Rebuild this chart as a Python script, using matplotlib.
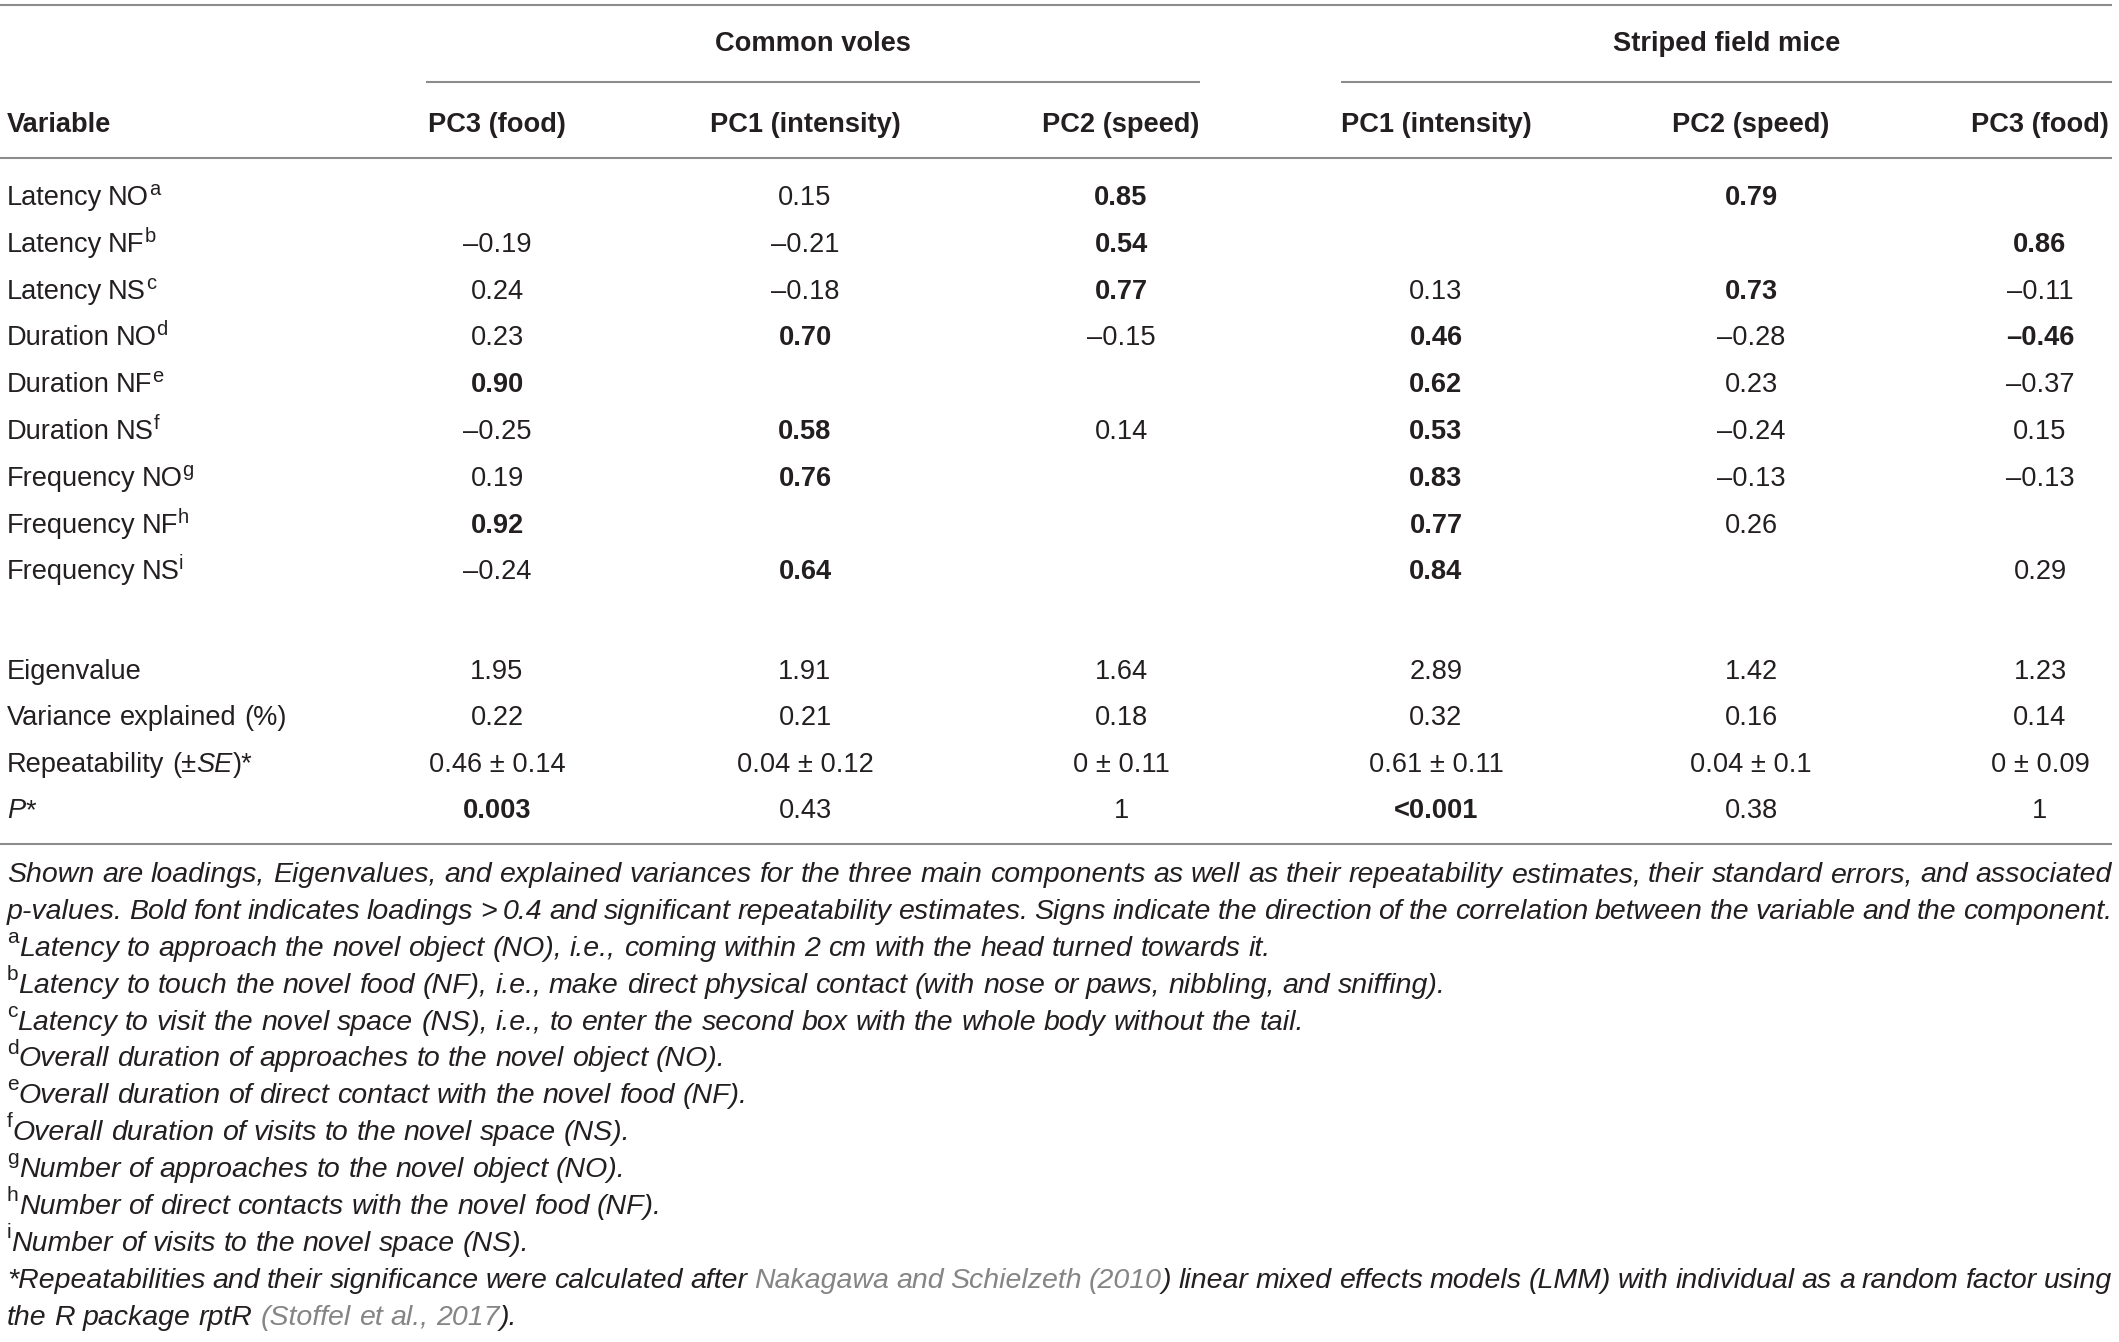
import matplotlib
matplotlib.use("Agg")
import matplotlib.pyplot as plt

W, H = 2119, 1342
INK = "#231f20"
LINK = "#858585"
RULE = "#8c8c8c"
FONT = "Liberation Sans"

# --- table data -------------------------------------------------------------
species = ["Common voles", "Striped field mice"]
components = ["PC3 (food)", "PC1 (intensity)", "PC2 (speed)",
              "PC1 (intensity)", "PC2 (speed)", "PC3 (food)"]
variables = ["Latency NO", "Latency NF", "Latency NS",
             "Duration NO", "Duration NF", "Duration NS",
             "Frequency NO", "Frequency NF", "Frequency NS"]
var_notes = ["a", "b", "c", "d", "e", "f", "g", "h", "i"]

loadings = [
    [None, 0.15, 0.85, None, 0.79, None],
    [-0.19, -0.21, 0.54, None, None, 0.86],
    [0.24, -0.18, 0.77, 0.13, 0.73, -0.11],
    [0.23, 0.70, -0.15, 0.46, -0.28, -0.46],
    [0.90, None, None, 0.62, 0.23, -0.37],
    [-0.25, 0.58, 0.14, 0.53, -0.24, 0.15],
    [0.19, 0.76, None, 0.83, -0.13, -0.13],
    [0.92, None, None, 0.77, 0.26, None],
    [-0.24, 0.64, None, 0.84, None, 0.29],
]
eigenvalues = [1.95, 1.91, 1.64, 2.89, 1.42, 1.23]
variance_explained = [0.22, 0.21, 0.18, 0.32, 0.16, 0.14]
rep_r = [0.46, 0.04, 0, 0.61, 0.04, 0]
rep_se = [0.14, 0.12, 0.11, 0.11, 0.1, 0.09]
p_labels = ["0.003", "0.43", "1", "<0.001", "0.38", "1"]

caption = [
    [("Shown are loadings, Eigenvalues, and explained variances for the three main components as well as their "
      "repeatability estimates, their standard errors, and associated", "i")],
    [("p-values. Bold font indicates loadings > 0.4 and significant repeatability estimates. Signs indicate the "
      "direction of the correlation between the variable and the component.", "i")],
    [("a", "s"), ("Latency to approach the novel object (NO), i.e., coming within 2 cm with the head turned towards it.", "i")],
    [("b", "s"), ("Latency to touch the novel food (NF), i.e., make direct physical contact (with nose or paws, "
                  "nibbling, and sniffing).", "i")],
    [("c", "s"), ("Latency to visit the novel space (NS), i.e., to enter the second box with the whole body "
                  "without the tail.", "i")],
    [("d", "s"), ("Overall duration of approaches to the novel object (NO).", "i")],
    [("e", "s"), ("Overall duration of direct contact with the novel food (NF).", "i")],
    [("f", "s"), ("Overall duration of visits to the novel space (NS).", "i")],
    [("g", "s"), ("Number of approaches to the novel object (NO).", "i")],
    [("h", "s"), ("Number of direct contacts with the novel food (NF).", "i")],
    [("i", "s"), ("Number of visits to the novel space (NS).", "i")],
    [("*Repeatabilities and their significance were calculated after ", "i"),
     ("Nakagawa and Schielzeth (2010", "g"),
     (") linear mixed effects models (LMM) with individual as a random factor using", "i")],
    [("the R package rptR ", "i"), ("(Stoffel et al., 2017", "g"), (").", "i")],
]
justified = [True, True, False, False, False, False, False, False, False, False, False, True, False]

# --- styles -----------------------------------------------------------------
STY = {
    "n": dict(family=FONT, fontsize=19.6, color=INK),
    "b": dict(family=FONT, fontsize=19.6, color=INK, fontweight="bold"),
    "ni": dict(family=FONT, fontsize=19.6, color=INK, style="italic"),
    "rs": dict(family=FONT, fontsize=14.5, color=INK),
    "i": dict(family=FONT, fontsize=20.5, color=INK, style="italic"),
    "g": dict(family=FONT, fontsize=20.5, color=LINK, style="italic"),
    "s": dict(family=FONT, fontsize=15, color=INK),
}
RAISE = {"rs": 10, "s": 13}

fig = plt.figure(figsize=(W / 100, H / 100), dpi=100)
ax = fig.add_axes([0, 0, 1, 1])
ax.set_xlim(0, W)
ax.set_ylim(H, 0)
ax.axis("off")
renderer = fig.canvas.get_renderer()


def text_width(s, key):
    t = ax.text(0, 0, s, **STY[key])
    w = t.get_window_extent(renderer).width
    t.remove()
    return w


def space_width(key):
    return text_width("a a", key) - text_width("aa", key)


def place_line(x, y, segments, width=None):
    # split segments into words, each word is a list of (text, style)
    words, cur = [], []
    for text, key in segments:
        for k, part in enumerate(text.split(" ")):
            if k > 0 and cur:
                words.append(cur)
                cur = []
            if part:
                cur.append((part, key))
    if cur:
        words.append(cur)
    widths = [sum(text_width(t, k) for t, k in w) for w in words]
    if width is None or len(words) < 2:
        gap = space_width(segments[-1][1])
    else:
        gap = (width - sum(widths)) / (len(words) - 1)
    xx = x
    for w, ww in zip(words, widths):
        px = xx
        for t, k in w:
            ax.text(px, y - RAISE.get(k, 0), t, ha="left", va="baseline", **STY[k])
            px += text_width(t, k)
        xx += ww + gap


def fmt(v):
    return f"{v:.2f}".replace("-", "\u2013")


# --- layout -----------------------------------------------------------------
left, right = 7, 2112
col_x = [497, 805, 1121, 1436, 1751, 2040]
group_span = [(426, 1200), (1341, 2112)]
row_y0, row_dy = 205, 46.8
stat_y0, stat_dy = 679, 46.4

for y in (5, 158, 844):
    ax.plot([0, right], [y, y], color=RULE, lw=1.5, solid_capstyle="butt")
for (x0, x1), name in zip(group_span, species):
    ax.plot([x0, x1], [82, 82], color=RULE, lw=1.5, solid_capstyle="butt")
    ax.text((x0 + x1) / 2, 51, name, ha="center", va="baseline", **STY["b"])

ax.text(left, 132, "Variable", ha="left", va="baseline", **STY["b"])
for x, c in zip(col_x, components):
    ax.text(x, 132, c, ha="center", va="baseline", **STY["b"])

for i, (var, note, row) in enumerate(zip(variables, var_notes, loadings)):
    y = row_y0 + i * row_dy
    place_line(left, y, [(var, "n"), (note, "rs")])
    for x, v in zip(col_x, row):
        if v is None:
            continue
        key = "b" if abs(v) > 0.4 else "n"
        ax.text(x, y, fmt(v), ha="center", va="baseline", **STY[key])

stat_rows = [
    ([("Eigenvalue", "n")], [fmt(v) for v in eigenvalues], [False] * 6),
    ([("Variance explained (%)", "n")], [fmt(v) for v in variance_explained], [False] * 6),
    ([("Repeatability (\u00b1", "n"), ("SE", "ni"), (")*", "n")],
     [f"{r:g} \u00b1 {s:g}" for r, s in zip(rep_r, rep_se)], [False] * 6),
    ([("P", "ni"), ("*", "n")], p_labels, [float(p.lstrip("<")) < 0.05 for p in p_labels]),
]
for j, (label, vals, bold) in enumerate(stat_rows):
    y = stat_y0 + j * stat_dy
    place_line(left, y, label)
    for x, v, b in zip(col_x, vals, bold):
        ax.text(x, y, v, ha="center", va="baseline", **STY["b" if b else "n"])

cap_y0, cap_dy = 882, 36.9
for i, (segs, just) in enumerate(zip(caption, justified)):
    place_line(left, cap_y0 + i * cap_dy, segs, width=(right - left) if just else None)

fig.savefig("out.png", dpi=100)
